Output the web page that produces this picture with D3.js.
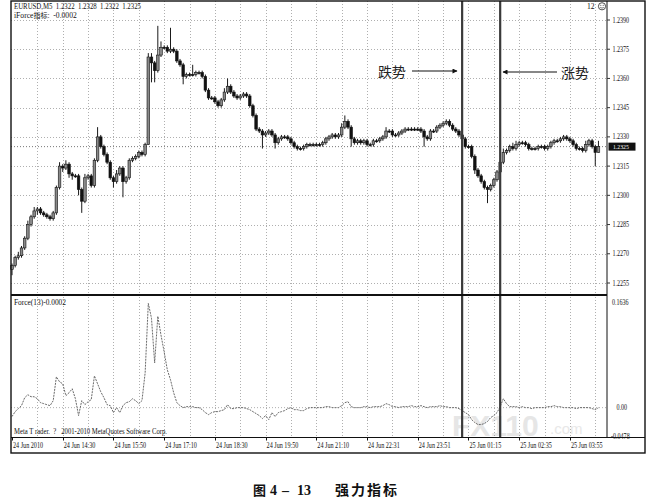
<!DOCTYPE html>
<html><head><meta charset="utf-8">
<script src="https://cdn.jsdelivr.net/npm/d3@7/dist/d3.min.js"></script>
<style>body{margin:0;background:#fff}svg{display:block}text{white-space:pre}</style>
</head><body>
<svg id="c" width="648" height="499"></svg>
<script>
// ---- data (EURUSD M5) ----
const firstOpen = 1.2262;
const closes = [
1.2264,1.2268,1.2269,1.2273,1.2278,1.2285,1.2289,1.2292,1.2293,1.2291,
1.2290,1.2289,1.2288,1.2291,1.2304,1.2315,1.2314,1.2316,1.2311,1.2310,
1.2310,1.2303,1.2297,1.2309,1.2310,1.2305,1.2318,1.2330,1.2325,1.2321,
1.2317,1.2309,1.2307,1.2311,1.2314,1.2307,1.2309,1.2318,1.2319,1.2320,
1.2322,1.2321,1.2326,1.2371,1.2368,1.2364,1.2372,1.2376,1.2376,1.2374,
1.2375,1.2374,1.2369,1.2367,1.2361,1.2362,1.2362,1.2362,1.2363,1.2363,
1.2361,1.2354,1.2350,1.2350,1.2348,1.2346,1.2349,1.2353,1.2356,1.2353,
1.2351,1.2350,1.2351,1.2352,1.2351,1.2346,1.2341,1.2334,1.2333,1.2331,
1.2332,1.2333,1.2331,1.2327,1.2329,1.2330,1.2330,1.2329,1.2327,1.2325,
1.2324,1.2324,1.2325,1.2326,1.2326,1.2326,1.2326,1.2326,1.2327,1.2329,
1.2330,1.2331,1.2330,1.2331,1.2335,1.2338,1.2335,1.2329,1.2327,1.2328,
1.2327,1.2328,1.2326,1.2326,1.2328,1.2328,1.2329,1.2330,1.2333,1.2333,
1.2331,1.2331,1.2332,1.2333,1.2334,1.2334,1.2334,1.2334,1.2334,1.2333,
1.2330,1.2329,1.2333,1.2333,1.2335,1.2336,1.2337,1.2338,1.2336,1.2334,
1.2333,1.2331,1.2329,1.2325,1.2325,1.2320,1.2313,1.2310,1.2307,1.2304,
1.2303,1.2305,1.2308,1.2312,1.2317,1.2322,1.2323,1.2325,1.2324,1.2326,
1.2327,1.2327,1.2326,1.2324,1.2324,1.2324,1.2325,1.2325,1.2324,1.2325,
1.2327,1.2328,1.2328,1.2329,1.2330,1.2329,1.2328,1.2326,1.2324,1.2324,
1.2323,1.2326,1.2328,1.2325,1.2322,1.2325];
const hiWick = [
1,1,2,1,1,2,1,2,1,1, 1,1,1,1,1,2,1,2,1,1, 1,1,1,2,1,1,1,5,1,1,
1,1,1,2,1,1,1,1,1,1, 1,1,1,2,2,1,15,3,1,1, 11,1,1,1,1,1,1,5,1,1,
1,1,1,1,1,1,1,2,4,1, 1,1,1,1,1,1,1,1,1,1, 1,1,1,1,1,1,1,1,1,1,
1,1,1,1,1,1,1,1,1,1, 1,1,1,1,2,3,1,1,1,1, 1,1,1,1,1,1,1,1,2,1,
1,1,1,1,1,1,1,1,1,1, 1,1,1,1,1,1,1,1,1,1, 1,1,1,1,1,1,1,1,1,1,
1,1,1,1,1,2,1,1,2,2, 1,1,1,1,1,1,1,1,1,1, 1,1,1,1,1,1,1,1,1,1,
1,2,1,1,1,3];
const loWick = [
3,1,1,1,1,1,1,1,2,1, 1,1,1,1,1,1,2,1,2,2, 1,3,6,1,1,1,1,1,1,1,
1,1,3,1,1,8,1,1,1,1, 1,1,1,0,10,6,1,1,1,1, 1,1,1,1,4,1,1,1,1,1,
1,1,1,1,1,1,1,1,1,1, 1,1,1,1,1,1,1,1,1,7, 1,1,1,3,1,1,1,1,1,1,
1,1,1,1,1,1,1,1,1,1, 1,1,1,1,1,1,1,4,1,1, 1,1,1,1,1,1,1,1,1,1,
1,1,1,1,1,1,1,1,1,1, 5,1,1,1,1,1,1,1,1,1, 1,1,1,1,1,1,2,1,1,1,
7,1,1,1,1,1,1,1,1,1, 1,1,1,1,1,1,1,1,1,1, 1,1,1,1,1,1,1,1,1,1,
1,1,1,1,7,0];
const force = [
-0.0138,-0.0062,-0.0015,0.0031,0.0154,0.0200,0.0169,0.0169,0.0138,0.0077,
0.0062,0.0046,0.0031,0.0108,0.0477,0.0400,0.0369,0.0185,0.0231,0.0292,
0.0138,-0.0123,0.0108,0.0046,0.0092,0.0123,0.0492,0.0369,0.0246,0.0154,
0.0046,0.0031,-0.0077,0.0000,-0.0077,0.0031,0.0077,0.0092,0.0138,0.0108,
0.0062,0.0108,0.0538,0.1615,0.1385,0.0692,0.1415,0.1123,0.0862,0.0585,
0.0431,0.0231,0.0077,0.0031,0.0000,0.0015,0.0015,0.0015,0.0000,0.0000,
-0.0031,-0.0077,-0.0108,-0.0077,-0.0062,-0.0062,-0.0046,-0.0031,0.0046,-0.0015,
-0.0015,0,0,0,-0.0015,-0.0031,-0.0062,-0.0092,-0.0123,-0.0169,
-0.0123,-0.0185,-0.0077,-0.0138,-0.0077,-0.0062,-0.0046,-0.0015,0,-0.0031,
-0.0031,-0.0046,-0.0046,-0.0015,0,0,0,0,0,0.0015,
0.0015,0,0,0,0.0031,0.0077,0.0092,0.0015,0,0,
0,0.0015,0.0015,0,0.0015,0.0015,0.0015,0.0031,0.0062,0.0046,
0.0015,0.0015,0,0.0015,0.0015,0.0015,0.0031,0.0015,0.0015,0.0031,
0.0015,0,0.0015,0.0015,0.0015,0.0031,0.0015,0.0015,0,0,
0,-0.0015,-0.0046,-0.0077,-0.0108,-0.0185,-0.0231,-0.0262,-0.0262,-0.0246,
-0.0215,-0.0154,-0.0123,-0.0077,0.0015,0.0138,0.0062,0.0015,0.0015,0.0015,
0,0.0015,0,0,-0.0015,0,0,0,0,0.0015,
0.0015,0.0031,0.0015,0.0015,0,0,0,0,-0.0015,0,
0,0,0,-0.0015,-0.0031,-0.0002];
const priceTicks = [1.2390,1.2375,1.2360,1.2345,1.2330,1.2315,1.2300,1.2285,1.2270,1.2255];
const forceTicks = [0.1636,0.00,-0.0478];
const forceTickLabels = ["0.1636","0.00","-0.0478"];
const timeLabels = ["24 Jun 2010","24 Jun 14:30","24 Jun 15:50","24 Jun 17:10","24 Jun 18:30","24 Jun 19:50",
  "24 Jun 21:10","24 Jun 22:31","24 Jun 23:51","25 Jun 01:15","25 Jun 02:35","25 Jun 03:55"];
const timeLabelBars = [0,16,32,48,64,80,96,112,128,144,160,176];
const markerBars = [142,154];
const lastPrice = 1.2325;

// ---- layout ----
const svg = d3.select("#c");
const L = 11, PR = 607, OR = 645, T = 1, PB = 295, FB = 437.5, AB = 453;
const n = closes.length;
const x = d3.scaleLinear().domain([0, n - 1]).range([12, 12 + 3.17 * (n - 1)]);
const y = d3.scaleLinear().domain([1.2255, 1.2390]).range([283, 20]);
const fy = d3.scaleLinear().domain([-0.0478, 0.1636]).range([438.5, 302]);
const serif = "Liberation Serif, Times New Roman, serif";
const cjk = "Noto Sans CJK SC, sans-serif";

const bars = closes.map((c, i) => {
  const o = i ? closes[i - 1] : firstOpen;
  return {i, o, c, h: Math.max(o, c) + hiWick[i] * 1e-4, l: Math.min(o, c) - loWick[i] * 1e-4};
});

// watermark (behind everything)
svg.append("text").attr("x", 452).attr("y", 436).attr("font-family", "Liberation Sans, sans-serif").attr("font-weight", "bold")
  .attr("font-size", 30).attr("fill", "#e6e6e6").text("FX110");
svg.append("text").attr("x", 550).attr("y", 434).attr("font-family", "Liberation Sans, sans-serif")
  .attr("font-size", 15).attr("fill", "#e8e8e8").text(".com");

// grid
const grid = svg.append("g").attr("stroke", "#9a9a9a").attr("stroke-dasharray", "1,2").attr("stroke-width", 0.8);
grid.selectAll(".h").data(priceTicks).join("line")
  .attr("x1", L).attr("x2", PR).attr("y1", d => Math.round(y(d)) + 0.5).attr("y2", d => Math.round(y(d)) + 0.5);
const vBars = d3.range(8, n, 8);
grid.selectAll(".v").data(vBars).join("line")
  .attr("x1", d => Math.round(x(d)) + 0.5).attr("x2", d => Math.round(x(d)) + 0.5)
  .attr("y1", T).attr("y2", PB);
grid.selectAll(".v2").data(vBars).join("line")
  .attr("x1", d => Math.round(x(d)) + 0.5).attr("x2", d => Math.round(x(d)) + 0.5)
  .attr("y1", PB + 2).attr("y2", FB);
grid.append("line").attr("x1", L).attr("x2", PR).attr("y1", fy(0)).attr("y2", fy(0));
svg.append("line").attr("x1", L).attr("x2", PR).attr("y1", y(lastPrice)).attr("y2", y(lastPrice))
  .attr("stroke", "#777").attr("stroke-dasharray", "1,2");

// candles
const cg = svg.append("g");
cg.selectAll("line").data(bars).join("line")
  .attr("x1", d => x(d.i)).attr("x2", d => x(d.i))
  .attr("y1", d => y(d.h)).attr("y2", d => y(d.l))
  .attr("stroke", "#1a1a1a").attr("stroke-width", 1);
cg.selectAll("rect").data(bars).join("rect")
  .attr("x", d => x(d.i) - 1.3).attr("width", 2.6)
  .attr("y", d => y(Math.max(d.o, d.c)))
  .attr("height", d => Math.max(1, Math.abs(y(d.o) - y(d.c))))
  .attr("fill", d => d.c > d.o ? "#8a8a8a" : "#111")
  .attr("stroke", "#111").attr("stroke-width", 0.6);

// force line
svg.append("path").datum(force)
  .attr("d", d3.line().x((d, i) => x(i)).y(d => fy(d)))
  .attr("fill", "none").attr("stroke", "#6a6a6a").attr("stroke-width", 1).attr("stroke-dasharray", "2,1");

// marker vertical lines
svg.selectAll(".mk").data(markerBars).join("line")
  .attr("x1", d => x(d)).attr("x2", d => x(d)).attr("y1", T).attr("y2", FB)
  .attr("stroke", "#3a3a3a").attr("stroke-width", 2.2);

// frames
const fr = svg.append("g").attr("stroke", "#111").attr("fill", "none");
fr.append("rect").attr("x", L).attr("y", T).attr("width", OR - L).attr("height", AB - T).attr("stroke-width", 1.4);
fr.append("line").attr("x1", PR).attr("x2", PR).attr("y1", T).attr("y2", FB).attr("stroke-width", 1);
fr.append("line").attr("x1", L).attr("x2", PR).attr("y1", PB).attr("y2", PB).attr("stroke-width", 2.2);
fr.append("line").attr("x1", L).attr("x2", OR).attr("y1", FB).attr("y2", FB).attr("stroke-width", 1);

// compressed serif text helper
const ctext = (g, t, xx, yy, fs, sx) => g.append("text")
  .attr("transform", `translate(${xx},${yy}) scale(${sx || 0.85},1)`)
  .attr("font-family", serif).attr("font-size", fs).attr("fill", "#111").text(t);

// price axis (right)
const pa = svg.append("g");
pa.selectAll("line").data(priceTicks).join("line")
  .attr("x1", PR).attr("x2", PR + 3).attr("y1", d => y(d)).attr("y2", d => y(d)).attr("stroke", "#333");
priceTicks.forEach(p => ctext(pa, d3.format(".4f")(p), PR + 5.5, y(p) + 2.6, 7.4, 0.82));
// force axis (right)
const faX = [PR + 5, PR + 9.5, PR + 4];
const faY = [fy(0.1636) + 2.6, fy(0) + 2.6, fy(-0.0478) + 0.5];
forceTicks.forEach((v, i) => ctext(svg, forceTickLabels[i], faX[i], faY[i], 7.4, 0.82));
// current price box
svg.append("rect").attr("x", PR + 1.5).attr("y", y(lastPrice) - 4).attr("width", 27).attr("height", 8).attr("fill", "#111");
ctext(svg, d3.format(".4f")(lastPrice), PR + 6, y(lastPrice) + 2.5, 7, 0.82).attr("fill", "#fff");

// time axis
const ta = svg.append("g");
ta.selectAll("line").data(timeLabelBars).join("line")
  .attr("x1", d => Math.round(x(d)) + 0.5).attr("x2", d => Math.round(x(d)) + 0.5)
  .attr("y1", FB).attr("y2", FB + 3).attr("stroke", "#111");
timeLabels.forEach((t, i) => ctext(ta, t, x(timeLabelBars[i]) + 1, 447.5, 7.4, 0.83));

// header texts
const fit = (t, xx, yy, fs, w) => svg.append("text").attr("x", xx).attr("y", yy)
  .attr("font-family", serif).attr("font-size", fs).attr("fill", "#111")
  .attr("textLength", w).attr("lengthAdjust", "spacingAndGlyphs").text(t);
fit("EURUSD,M5  1.2322  1.2328  1.2322  1.2325", 14, 8.5, 8, 127);
svg.append("text").attr("x", 14).attr("y", 17.5).attr("font-size", 7.6).attr("fill", "#111")
  .attr("font-family", serif).html('iForce<tspan font-family="Noto Sans CJK SC" font-size="7">指标</tspan>:  -0.0002');
fit("Force(13)-0.0002", 14, 305, 7.4, 52);
fit("Meta T rader.  ?   2001-2010 MetaQuotes Software Corp.", 14, 433.5, 7.4, 153);
svg.append("text").attr("x", 587).attr("y", 9).attr("font-family", serif).attr("font-size", 7.6).attr("fill", "#111").text("12");
svg.append("circle").attr("cx", 602).attr("cy", 6.3).attr("r", 3.6).attr("fill", "none").attr("stroke", "#222").attr("stroke-width", 0.8);
svg.append("path").attr("d", "M600.2,7.3 Q602,9 603.8,7.3").attr("fill", "none").attr("stroke", "#222").attr("stroke-width", 0.6);
svg.append("circle").attr("cx", 600.8).attr("cy", 5.3).attr("r", 0.5).attr("fill", "#222");
svg.append("circle").attr("cx", 603.2).attr("cy", 5.3).attr("r", 0.5).attr("fill", "#222");

// annotations
svg.append("text").attr("x", 378).attr("y", 77).attr("font-family", cjk).attr("font-size", 14).attr("fill", "#222").text("跌势");
svg.append("text").attr("x", 561).attr("y", 78).attr("font-family", cjk).attr("font-size", 14).attr("fill", "#222").text("涨势");
const defs = svg.append("defs");
defs.append("marker").attr("id", "ah").attr("viewBox", "0 0 10 10").attr("refX", 9).attr("refY", 5)
  .attr("markerWidth", 7).attr("markerHeight", 5).attr("markerUnits", "userSpaceOnUse").attr("orient", "auto")
  .append("path").attr("d", "M0,0 L10,5 L0,10 z").attr("fill", "#111");
svg.append("line").attr("x1", 412).attr("x2", 457).attr("y1", 71).attr("y2", 71)
  .attr("stroke", "#111").attr("stroke-width", 1.2).attr("marker-end", "url(#ah)");
svg.append("line").attr("x1", 557).attr("x2", 503).attr("y1", 72).attr("y2", 72)
  .attr("stroke", "#111").attr("stroke-width", 1.2).attr("marker-end", "url(#ah)");

// caption
const cap = (t, xx, fam, fs) => svg.append("text").attr("x", xx).attr("y", 494.5).attr("font-family", fam)
  .attr("font-weight", "bold").attr("font-size", fs).attr("fill", "#111").text(t);
cap("图", 253, cjk, 13);
cap("4", 270, "Liberation Serif, serif", 14);
cap("–", 282, "Liberation Serif, serif", 14);
cap("13", 297, "Liberation Serif, serif", 14);
svg.append("text").attr("x", 335).attr("y", 494.5).attr("font-family", cjk).attr("font-weight", "bold")
  .attr("font-size", 14).attr("letter-spacing", 2).attr("fill", "#111").text("强力指标");
</script>
</body></html>
